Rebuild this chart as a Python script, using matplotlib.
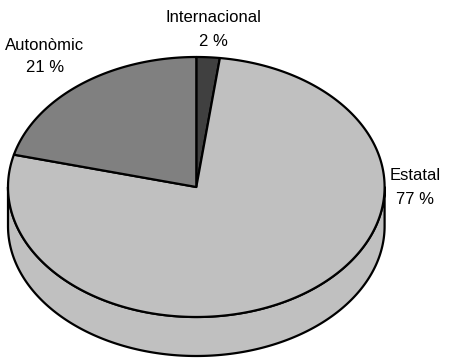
import numpy as np
import matplotlib
matplotlib.use("Agg")
import matplotlib.pyplot as plt
from matplotlib.patches import Polygon

# Share of budget by origin (clockwise from 12 o'clock)
categories = ["Internacional", "Estatal", "Autonòmic"]
percentages = [2, 77, 21]
slice_colors = ["#404040", "#c0c0c0", "#808080"]

plt.rcParams["font.family"] = ["Liberation Sans", "DejaVu Sans"]

W, H = 451, 358
fig = plt.figure(figsize=(W / 100, H / 100), dpi=100)
ax = fig.add_axes([0, 0, 1, 1])
ax.set_xlim(0, W)
ax.set_ylim(H, 0)
ax.axis("off")

# Tilted pie geometry (pixel units)
cx, cy = 196.3, 187.0
rx, ry = 188.3, 130.0
depth = 39.0
lw = 1.6


def rim(t_deg):
    t = np.radians(t_deg)
    return np.column_stack([cx + rx * np.sin(t), cy - ry * np.cos(t)])


total = float(sum(percentages))
bounds = np.concatenate([[0.0], np.cumsum(percentages) / total * 360.0])

# Side wall: only the front half (90..270 deg clockwise from top) is visible
for i, col in enumerate(slice_colors):
    lo = max(bounds[i], 90.0)
    hi = min(bounds[i + 1], 270.0)
    if hi <= lo:
        continue
    ts = np.linspace(lo, hi, 200)
    top = rim(ts)
    bottom = top + np.array([0.0, depth])
    pts = np.vstack([top, bottom[::-1]])
    ax.add_patch(Polygon(pts, closed=True, facecolor=col, edgecolor="black",
                         linewidth=lw, joinstyle="round", zorder=1))

# Top face wedges
for i, col in enumerate(slice_colors):
    ts = np.linspace(bounds[i], bounds[i + 1], 300)
    arc = rim(ts)
    pts = np.vstack([[cx, cy], arc])
    ax.add_patch(Polygon(pts, closed=True, facecolor=col, edgecolor="black",
                         linewidth=lw, joinstyle="round", zorder=2))

# Data labels
label_pos = {"Internacional": (213, 18), "Estatal": (415, 176), "Autonòmic": (45, 45)}
for name, pct in zip(categories, percentages):
    x, y = label_pos[name]
    ax.text(x, y, name, ha="center", va="center", fontsize=12, color="black")
    ax.text(x, y + 23, f"{pct} %", ha="center", va="center", fontsize=12, color="black")

fig.savefig("out.png", dpi=100)
